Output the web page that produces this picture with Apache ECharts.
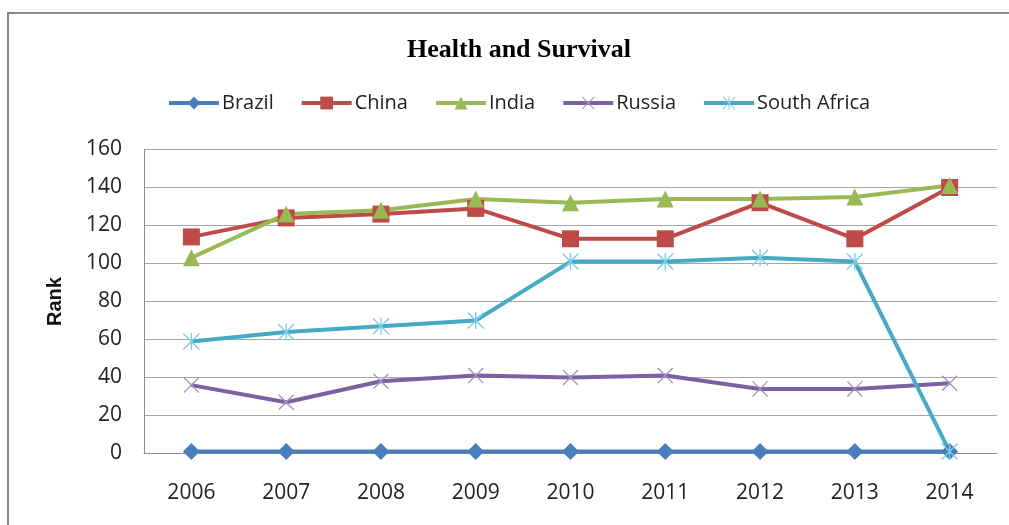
<!DOCTYPE html>
<html>
<head>
<meta charset="utf-8">
<script src="https://cdn.jsdelivr.net/npm/echarts@6/dist/echarts.min.js"></script>
<style>
  html, body { margin: 0; padding: 0; background: #ffffff; }
  #chart { width: 1009px; height: 525px; }
</style>
</head>
<body>
<div id="chart"></div>
<script>
// Health and Survival sub-index rank, BRICS countries
const years = ['2006', '2007', '2008', '2009', '2010', '2011', '2012', '2013', '2014'];
const brazil = [1, 1, 1, 1, 1, 1, 1, 1, 1];
const china = [114, 124, 126, 129, 113, 113, 132, 113, 140];
const india = [103, 126, 128, 134, 132, 134, 134, 135, 141];
const russia = [36, 27, 38, 41, 40, 41, 34, 34, 37];
const southAfrica = [59, 64, 67, 70, 101, 101, 103, 101, 1];
const yTicks = { min: 0, max: 160, interval: 20 };

// Thin-stroke marker shapes drawn as filled outlines
const crossPath = 'path://M0,0.6 L0.6,0 L10,9.4 L9.4,10 Z M0.6,10 L0,9.4 L9.4,0 L10,0.6 Z';
const starPath = crossPath + ' M4.6,0 L5.4,0 L5.4,10 L4.6,10 Z';

function lineSeries(name, data, color, symbol, size, markerColor) {
  return {
    name: name,
    type: 'line',
    data: data,
    symbol: symbol,
    symbolSize: size,
    showAllSymbol: true,
    lineStyle: { color: color, width: 4 },
    itemStyle: { color: markerColor || color, borderWidth: 0 },
    emphasis: { disabled: true },
    animation: false
  };
}

const chart = echarts.init(document.getElementById('chart'), null, { renderer: 'canvas' });
chart.setOption({
  backgroundColor: '#ffffff',
  animation: false,
  title: {
    text: 'Health and Survival',
    left: 514,
    top: 32,
    textAlign: 'center',
    textStyle: {
      fontFamily: 'Liberation Serif',
      fontWeight: 'bold',
      fontSize: 26,
      color: '#000000'
    }
  },
  legend: {
    left: 162,
    top: 88,
    itemWidth: 50,
    itemHeight: 16,
    itemGap: 26,
    lineStyle: { width: 4 },
    textStyle: {
      fontFamily: 'Open Sans',
      fontSize: 20,
      color: '#222222',
      padding: [0, 0, 0, -2]
    },
    data: ['Brazil', 'China', 'India', 'Russia', 'South Africa']
  },
  grid: { left: 144, right: 12, top: 149.5, bottom: 71.5, containLabel: false },
  xAxis: {
    type: 'category',
    data: years,
    boundaryGap: true,
    axisLine: { show: true, lineStyle: { color: '#8c8c8c', width: 1 } },
    axisTick: { show: false },
    axisLabel: {
      margin: 29,
      fontFamily: 'Open Sans',
      fontSize: 21,
      color: '#222222'
    },
    splitLine: { show: false }
  },
  yAxis: {
    type: 'value',
    min: yTicks.min,
    max: yTicks.max,
    interval: yTicks.interval,
    name: 'Rank',
    nameLocation: 'middle',
    nameGap: 79,
    nameRotate: 90,
    nameTextStyle: {
      fontFamily: 'Liberation Sans',
      fontWeight: 'bold',
      fontSize: 20,
      color: '#111111'
    },
    axisLine: { show: true, lineStyle: { color: '#8c8c8c', width: 1 } },
    axisTick: { show: false },
    axisLabel: {
      margin: 22,
      padding: [7, 0, 0, 0],
      fontFamily: 'Open Sans',
      fontSize: 21,
      color: '#222222'
    },
    splitLine: { show: true, lineStyle: { color: '#a6a6a6', width: 1.2 } }
  },
  graphic: [
    {
      type: 'polyline',
      silent: true,
      shape: { points: [[8, 525], [8, 13], [1009, 13]] },
      style: { stroke: '#888888', lineWidth: 2, fill: null }
    }
  ],
  series: [
    lineSeries('Brazil', brazil, '#4a7ebb', 'diamond', 17),
    lineSeries('China', china, '#be4b48', 'rect', 17),
    lineSeries('India', india, '#98b954', 'triangle', 17),
    lineSeries('Russia', russia, '#7d60a0', crossPath, 16, '#a594c6'),
    lineSeries('South Africa', southAfrica, '#46aac5', starPath, 17, '#7dcfe3')
  ]
});
</script>
</body>
</html>
